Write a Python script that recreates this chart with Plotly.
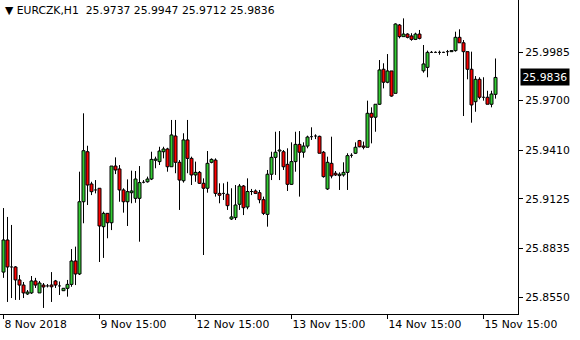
import plotly.graph_objects as go

opens = [25.8696, 25.8884, 25.8726, 25.8726, 25.8650, 25.8620, 25.8568, 25.8574, 25.8644, 25.8574,
         25.8620, 25.8615, 25.8620, 25.8644, 25.8615, 25.8587, 25.8601, 25.8624, 25.8761, 25.8685,
         25.9108, 25.9401, 25.9212, 25.9177, 25.9187, 25.8962, 25.9040, 25.8985, 25.9317, 25.9300,
         25.9177, 25.9108, 25.9161, 25.9128, 25.9128, 25.9222, 25.9225, 25.9241, 25.9351, 25.9343,
         25.9401, 25.9417, 25.9313, 25.9493, 25.9339, 25.9231, 25.9470, 25.9362, 25.9265, 25.9280,
         25.9216, 25.9187, 25.9339, 25.9352, 25.9157, 25.9157, 25.9152, 25.9007, 25.9015, 25.9093,
         25.9200, 25.9077, 25.9168, 25.9171, 25.9161, 25.9120, 25.9034, 25.9269, 25.9368, 25.9405,
         25.9401, 25.9327, 25.9210, 25.9343, 25.9444, 25.9398, 25.9434, 25.9489, 25.9493, 25.9491,
         25.9398, 25.9183, 25.9333, 25.9275, 25.9261, 25.9265, 25.9280, 25.9380, 25.9392, 25.9466,
         25.9434, 25.9427, 25.9626, 25.9603, 25.9679, 25.9884, 25.9808, 25.9874, 25.9743, 26.0143,
         26.0075, 26.0090, 26.0079, 26.0059, 26.0090, 25.9875, 25.9895, 25.9983, 25.9983, 25.9983,
         25.9983, 25.9987, 25.9987, 25.9993, 26.0071, 26.0039, 25.9987, 25.9884, 25.9694, 25.9825,
         25.9720, 25.9720, 25.9679, 25.9737]

highs = [25.9071, 25.9019, 25.8972, 25.8731, 25.8679, 25.8638, 25.8591, 25.8673, 25.8662, 25.8644,
         25.8632, 25.8626, 25.8696, 25.8650, 25.8641, 25.8603, 25.8650, 25.8831, 25.8845, 25.9284,
         25.9626, 25.9436, 25.9225, 25.9235, 25.9188, 25.9050, 25.9042, 25.9317, 25.9368, 25.9323,
         25.9187, 25.9239, 25.9290, 25.9288, 25.9317, 25.9235, 25.9255, 25.9401, 25.9372, 25.9430,
         25.9430, 25.9424, 25.9587, 25.9587, 25.9352, 25.9509, 25.9587, 25.9372, 25.9343, 25.9288,
         25.9245, 25.9405, 25.9362, 25.9362, 25.9216, 25.9216, 25.9225, 25.9187, 25.9206, 25.9212,
         25.9206, 25.9245, 25.9183, 25.9180, 25.9177, 25.9138, 25.9294, 25.9401, 25.9518, 25.9522,
         25.9411, 25.9421, 25.9456, 25.9518, 25.9522, 25.9456, 25.9495, 25.9544, 25.9503, 25.9495,
         25.9405, 25.9372, 25.9489, 25.9288, 25.9280, 25.9339, 25.9392, 25.9392, 25.9456, 25.9470,
         25.9460, 25.9700, 25.9661, 25.9679, 25.9938, 25.9919, 25.9973, 25.9874, 26.0153, 26.0149,
         26.0182, 26.0095, 26.0095, 26.0098, 26.0114, 26.0026, 25.9993, 25.9991, 25.9989, 25.9993,
         25.9987, 25.9997, 25.9995, 26.0104, 26.0118, 26.0055, 25.9987, 25.9987, 25.9844, 25.9837,
         25.9837, 25.9758, 25.9758, 25.9947]

lows = [25.8662, 25.8521, 25.8544, 25.8533, 25.8533, 25.8544, 25.8562, 25.8568, 25.8603, 25.8574,
        25.8486, 25.8606, 25.8521, 25.8603, 25.8562, 25.8585, 25.8552, 25.8610, 25.8620, 25.8679,
        25.8982, 25.9089, 25.9147, 25.9157, 25.8755, 25.8779, 25.8894, 25.8942, 25.9270, 25.9108,
        25.9044, 25.8966, 25.9099, 25.9102, 25.8874, 25.9216, 25.9220, 25.9235, 25.9304, 25.9323,
        25.9362, 25.9284, 25.9313, 25.9275, 25.9060, 25.9220, 25.9275, 25.9206, 25.9225, 25.9212,
        25.8796, 25.9161, 25.9333, 25.9138, 25.9099, 25.9118, 25.9060, 25.9001, 25.9001, 25.9060,
        25.9030, 25.9064, 25.9147, 25.9153, 25.9099, 25.9030, 25.8962, 25.9235, 25.9265, 25.9235,
        25.9294, 25.9171, 25.9206, 25.9284, 25.9138, 25.9366, 25.9421, 25.9470, 25.9475, 25.9392,
        25.9249, 25.9177, 25.9245, 25.9259, 25.9177, 25.9255, 25.9177, 25.9366, 25.9388, 25.9427,
        25.9415, 25.9427, 25.9450, 25.9518, 25.9675, 25.9772, 25.9802, 25.9723, 25.9743, 26.0065,
        26.0075, 26.0065, 26.0051, 26.0055, 26.0059, 25.9864, 25.9837, 25.9979, 25.9979, 25.9969,
        25.9979, 25.9962, 25.9985, 25.9987, 26.0039, 25.9610, 25.9825, 25.9571, 25.9635, 25.9708,
        25.9700, 25.9679, 25.9661, 25.9712]

closes = [25.8884, 25.8726, 25.8726, 25.8650, 25.8620, 25.8574, 25.8579, 25.8644, 25.8620, 25.8632,
          25.8609, 25.8615, 25.8610, 25.8620, 25.8615, 25.8601, 25.8624, 25.8761, 25.8685, 25.9108,
          25.9407, 25.9206, 25.9167, 25.9177, 25.8966, 25.9040, 25.8985, 25.9317, 25.9294, 25.9177,
          25.9108, 25.9167, 25.9171, 25.9241, 25.9220, 25.9222, 25.9241, 25.9356, 25.9358, 25.9405,
          25.9417, 25.9313, 25.9499, 25.9339, 25.9235, 25.9470, 25.9362, 25.9265, 25.9280, 25.9216,
          25.9187, 25.9333, 25.9356, 25.9157, 25.9146, 25.9157, 25.9085, 25.9019, 25.9089, 25.9200,
          25.9073, 25.9168, 25.9168, 25.9157, 25.9120, 25.9040, 25.9269, 25.9368, 25.9398, 25.9411,
          25.9313, 25.9210, 25.9343, 25.9444, 25.9398, 25.9434, 25.9487, 25.9489, 25.9493, 25.9392,
          25.9255, 25.9339, 25.9259, 25.9265, 25.9269, 25.9280, 25.9378, 25.9380, 25.9427, 25.9430,
          25.9427, 25.9626, 25.9603, 25.9679, 25.9880, 25.9808, 25.9874, 25.9727, 26.0149, 26.0075,
          26.0090, 26.0071, 26.0059, 26.0090, 26.0065, 25.9915, 25.9983, 25.9983, 25.9983, 25.9983,
          25.9983, 25.9987, 25.9993, 26.0071, 26.0039, 25.9987, 25.9884, 25.9675, 25.9825, 25.9720,
          25.9720, 25.9679, 25.9739, 25.9836]

bar_index = list(range(len(opens)))

x_tick_positions = [0, 24, 48, 72, 96, 120]
x_tick_labels = ["8 Nov 2018", "9 Nov 15:00", "12 Nov 15:00", "13 Nov 15:00",
                 "14 Nov 15:00", "15 Nov 15:00"]
y_tick_values = [25.8550, 25.8835, 25.9125, 25.9410, 25.9700, 25.9985]

symbol = "EURCZK,H1"
last_bar = {"open": 25.9737, "high": 25.9947, "low": 25.9712, "close": 25.9836}

FONT = "DejaVu Sans"
UP = "#33CC33"
DOWN = "#FF0000"
BODY_W = 0.75

# candle bodies (non-doji) as bars
body_x, body_base, body_h, body_col = [], [], [], []
doji_x, doji_y = [], []
wick_x, wick_y = [], []
for i, o, h, l, c in zip(bar_index, opens, highs, lows, closes):
    top, bot = max(o, c), min(o, c)
    if c != o:
        body_x.append(i)
        body_base.append(bot)
        body_h.append(top - bot)
        body_col.append(UP if c > o else DOWN)
    else:
        doji_x += [i - BODY_W / 2, i + BODY_W / 2, None]
        doji_y += [o, o, None]
    if h > top:
        wick_x += [i, i, None]
        wick_y += [top, h, None]
    if l < bot:
        wick_x += [i, i, None]
        wick_y += [l, bot, None]

fig = go.Figure()
fig.add_trace(go.Bar(
    x=body_x, y=body_h, base=body_base, width=BODY_W,
    marker=dict(color=body_col, line=dict(color="black", width=1)),
    hoverinfo="skip",
))
fig.add_trace(go.Scatter(
    x=wick_x, y=wick_y, mode="lines",
    line=dict(color="black", width=1), hoverinfo="skip",
))
fig.add_trace(go.Scatter(
    x=doji_x, y=doji_y, mode="lines",
    line=dict(color="black", width=1), hoverinfo="skip",
))

fig.update_layout(
    width=580, height=340,
    margin=dict(l=0, r=62, t=0, b=26),
    paper_bgcolor="white", plot_bgcolor="white",
    showlegend=False,
    font=dict(family=FONT, size=10.5, color="black"),
    xaxis=dict(
        range=[-0.875, 128.625],
        tickmode="array", tickvals=x_tick_positions, ticktext=x_tick_labels,
        ticks="outside", ticklen=4, tickcolor="black", tickwidth=1,
        ticklabelposition="outside right",
        showgrid=False, zeroline=False,
        showline=True, linecolor="black", linewidth=1,
        tickfont=dict(family=FONT, size=10.8, color="black"),
    ),
    yaxis=dict(
        side="right", range=[25.84505, 26.02896],
        tickmode="array", tickvals=y_tick_values, tickformat=".4f",
        ticks="outside", ticklen=4, tickcolor="black", tickwidth=1,
        showgrid=False, zeroline=False,
        showline=True, linecolor="black", linewidth=1,
        tickfont=dict(family=FONT, size=10.8, color="black"),
    ),
)

header = ("\u25BC\u00a0" + symbol + "\u00a0\u00a0"
          + " ".join(f"{last_bar[k]:.4f}" for k in ["open", "high", "low", "close"]))
fig.add_annotation(
    xref="paper", yref="paper", x=0, y=1, xanchor="left", yanchor="top",
    xshift=3, yshift=-2,
    text=header, showarrow=False,
    font=dict(family=FONT, size=10.8, color="black"),
)

fig.add_annotation(
    xref="paper", yref="y", x=1, y=last_bar["close"], xanchor="left", yanchor="middle",
    xshift=2,
    text=f"{last_bar['close']:.4f}", showarrow=False,
    bgcolor="black", borderpad=1.5,
    font=dict(family=FONT, size=10.8, color="white"),
)

fig.write_html("out.html")
